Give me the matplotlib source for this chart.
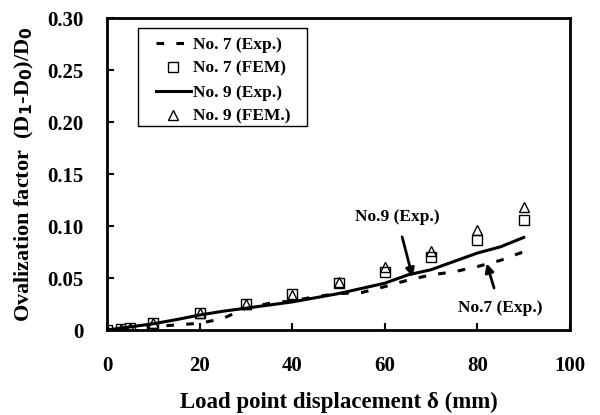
import numpy as np
import matplotlib.pyplot as plt
from matplotlib.patches import Rectangle

plt.rcParams['font.family'] = ['Liberation Serif', 'DejaVu Serif']
plt.rcParams['font.weight'] = 'bold'

# FEM results (markers)
x_fem = [0, 3, 5, 10, 20, 30, 40, 50, 60, 70, 80, 90]
no7_fem = [0, 0.001, 0.002, 0.007, 0.016, 0.025, 0.0345, 0.0455, 0.056, 0.0705, 0.087, 0.106]
no9_fem = [0, 0.001, 0.002, 0.007, 0.016, 0.025, 0.034, 0.0465, 0.061, 0.076, 0.096, 0.1186]

# experimental curves
x_exp = [0, 5, 10, 15, 20, 25, 30, 35, 40, 45, 50, 55, 60, 65, 70, 75, 80, 85, 90]
no7_exp = [0, 0.001, 0.003, 0.005, 0.0064, 0.011, 0.021, 0.0256, 0.028, 0.032, 0.035,
           0.036, 0.0417, 0.048, 0.053, 0.056, 0.061, 0.067, 0.0753]
no9_exp = [0, 0.003, 0.006, 0.010, 0.0144, 0.018, 0.021, 0.024, 0.027, 0.031, 0.035,
           0.040, 0.045, 0.053, 0.058, 0.066, 0.074, 0.080, 0.089]

fig = plt.figure(figsize=(6, 4.15), dpi=100)
ax = fig.add_axes([107/600, 1-330/415, 463/600, 312/415])

ax.plot(x_exp, no7_exp, color='k', lw=2.2, linestyle=(0, (2.5, 4)), label='No. 7 (Exp.)')
ax.plot(x_fem, no7_fem, 's', mfc='white', mec='k', ms=7.5, mew=1, label='No. 7 (FEM)')
ax.plot(x_exp, no9_exp, color='k', lw=2.2, label='No. 9 (Exp.)')
ax.plot(x_fem, no9_fem, '^', mfc='none', mec='k', ms=7.5, mew=1, label='No. 9 (FEM.)')

ax.annotate('No.9 (Exp.)', xy=(66, 0.051), xytext=(62.6, 0.109), ha='center', va='center',
            fontsize=12.5, fontweight='bold',
            arrowprops=dict(arrowstyle='-|>', color='k', lw=2, shrinkA=7, shrinkB=0))
ax.annotate('No.7 (Exp.)', xy=(82, 0.064), xytext=(84.9, 0.021), ha='center', va='center',
            fontsize=12.5, fontweight='bold',
            arrowprops=dict(arrowstyle='-|>', color='k', lw=2, shrinkA=7, shrinkB=0))

ax.set_xlim(0, 100)
ax.set_ylim(0, 0.30)
ax.set_xticks([0, 20, 40, 60, 80, 100])
ax.set_yticks([0, 0.05, 0.10, 0.15, 0.20, 0.25, 0.30])
ax.set_yticklabels(['0', '0.05', '0.10', '0.15', '0.20', '0.25', '0.30'])
ax.tick_params(direction='in', length=5, width=1.5, labelsize=15)
ax.tick_params(axis='y', pad=17)
ax.tick_params(axis='x', pad=19)
for lab in ax.get_xticklabels() + ax.get_yticklabels():
    lab.set_fontweight('bold')
for s in ax.spines.values():
    s.set_linewidth(2)

ax.set_xlabel('Load point displacement δ (mm)', fontsize=16.5, fontweight='bold', labelpad=11)
ax.set_ylabel('Ovalization factor  (D$_\\mathbf{1}$-D$_\\mathbf{0}$)/D$_\\mathbf{0}$',
              fontsize=16, fontweight='bold', labelpad=8)

# legend box drawn separately so the padding matches the original
ax.add_patch(Rectangle((0.067, 0.654), 0.365, 0.314, transform=ax.transAxes,
                       fill=True, facecolor='white', edgecolor='k', lw=1, zorder=4))
leg = ax.legend(loc='upper left', bbox_to_anchor=(0.106, 0.94), borderaxespad=0,
                fontsize=12.5, frameon=False, handlelength=2.0, handletextpad=0.1,
                borderpad=0, labelspacing=0.45)
leg.set_zorder(5)
for t in leg.get_texts():
    t.set_fontweight('bold')

plt.savefig('out.png', dpi=100)
